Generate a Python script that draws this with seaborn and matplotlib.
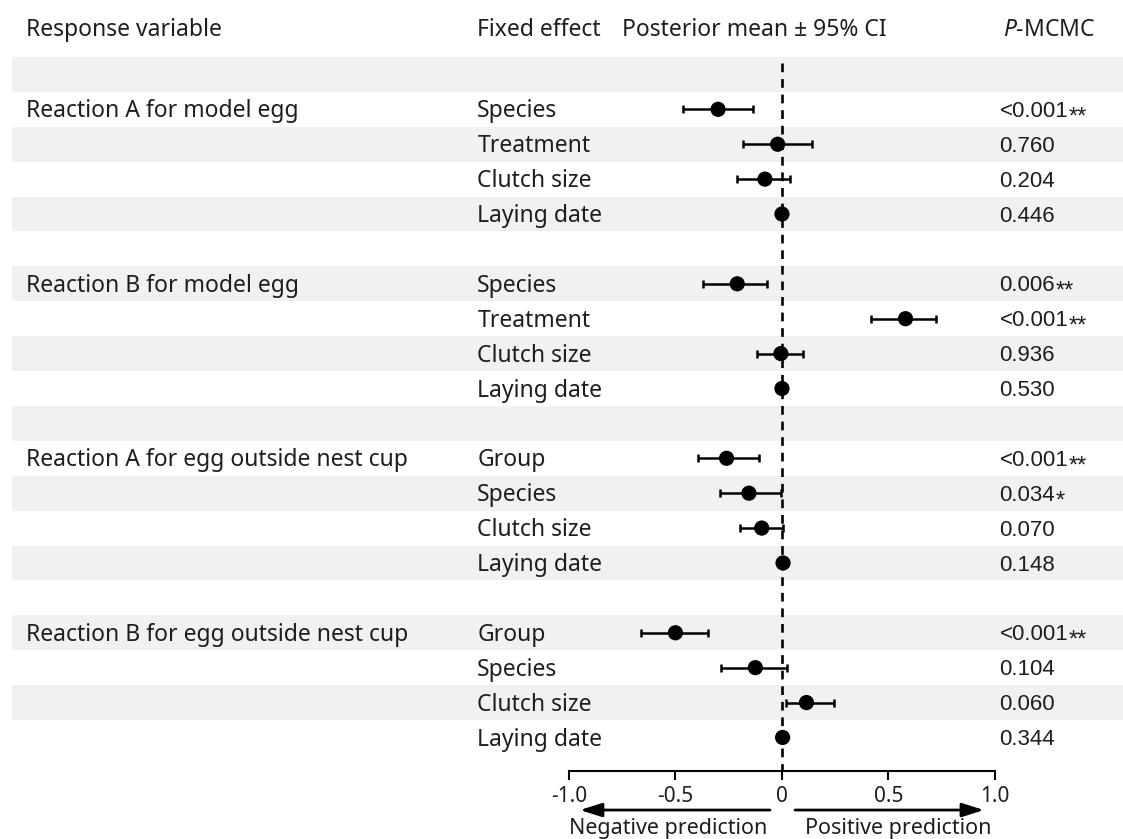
import pandas as pd
import matplotlib.pyplot as plt
import seaborn as sns

# model summaries (posterior means, 95% CI, P-MCMC)
responses = ["Reaction A for model egg", "Reaction B for model egg",
             "Reaction A for egg outside nest cup", "Reaction B for egg outside nest cup"]
effects = [["Species", "Treatment", "Clutch size", "Laying date"],
           ["Species", "Treatment", "Clutch size", "Laying date"],
           ["Group", "Species", "Clutch size", "Laying date"],
           ["Group", "Species", "Clutch size", "Laying date"]]
means = [-0.30, -0.02, -0.08, 0.0,
         -0.21, 0.58, -0.005, 0.0,
         -0.26, -0.155, -0.095, 0.005,
         -0.50, -0.125, 0.115, 0.003]
lower = [-0.465, -0.185, -0.21, -0.01,
         -0.37, 0.42, -0.115, -0.01,
         -0.395, -0.29, -0.195, -0.005,
         -0.66, -0.285, 0.02, -0.007]
upper = [-0.135, 0.14, 0.04, 0.01,
         -0.07, 0.725, 0.10, 0.01,
         -0.11, -0.005, 0.003, 0.015,
         -0.345, 0.025, 0.245, 0.013]
p_values = ["<0.001", "0.760", "0.204", "0.446",
            "0.006", "<0.001", "0.936", "0.530",
            "<0.001", "0.034", "0.070", "0.148",
            "<0.001", "0.104", "0.060", "0.344"]
stars = ["**", "", "", "",
         "**", "**", "", "",
         "**", "*", "", "",
         "**", "", "", ""]
tick_values = [-1.0, -0.5, 0.0, 0.5, 1.0]
tick_labels = ["-1.0", "-0.5", "0", "0.5", "1.0"]

rows = []
for g, resp in enumerate(responses):
    for j, eff in enumerate(effects[g]):
        rows.append({"response": resp, "effect": eff, "row": 1 + g * 5 + j})
df = pd.DataFrame(rows)
df["mean"] = means
df["lower"] = lower
df["upper"] = upper
df["p"] = p_values
df["stars"] = stars

sns.set_theme(style="white")
plt.rcParams['font.family'] = ['Noto Sans', 'DejaVu Sans']
plt.rcParams['mathtext.fontset'] = 'custom'
plt.rcParams['mathtext.it'] = 'Noto Sans:italic'
plt.rcParams['mathtext.rm'] = 'Noto Sans'

FS = 16.5
txt_color = "#1e1e1e"
dy = 0.06  # nudge text down a little to sit centred in the stripes
fig = plt.figure(figsize=(11.23, 8.39), dpi=100)
ax = fig.add_axes([0, 0, 1, 1])
ax.set_facecolor("white")

n_rows = 20
for i in range(0, n_rows, 2):
    ax.axhspan(i - 0.5, i + 0.5, xmin=0.011, xmax=1, color="#f1f1f1", lw=0, zorder=0)

axis_y = 19.96
ax.vlines(0, -0.33, axis_y, colors="black", linestyles=(0, (3.3, 2.6)), lw=1.9, zorder=1)

ax.errorbar(df["mean"], df["row"],
            xerr=[df["mean"] - df["lower"], df["upper"] - df["mean"]],
            fmt="none", ecolor="black", elinewidth=1.8, capsize=3, capthick=1.8, zorder=2)
sns.scatterplot(data=df, x="mean", y="row", color="black", s=120, edgecolor="none",
                ax=ax, zorder=3, legend=False)

ax.set_xlim(-3.671, 1.601)
ax.set_ylim(21.91, -2.133)
ax.set_xlabel("")
ax.set_ylabel("")

for s in ["left", "right", "top"]:
    ax.spines[s].set_visible(False)
ax.spines["bottom"].set_position(("data", axis_y))
ax.spines["bottom"].set_bounds(-1, 1)
ax.spines["bottom"].set_linewidth(1.5)
ax.spines["bottom"].set_color("black")
ax.set_yticks([])
ax.set_xticks(tick_values)
ax.set_xticklabels(tick_labels, fontsize=15)
ax.tick_params(axis="x", direction="out", length=6.5, width=1.5, pad=4, colors="black",
               labelcolor=txt_color, bottom=True)

tr = ax.get_yaxis_transform()
head_y = -1.28
ax.text(0.023, head_y, "Response variable", transform=tr, va="center", fontsize=FS, color=txt_color)
ax.text(0.425, head_y, "Fixed effect", transform=tr, va="center", fontsize=FS, color=txt_color)
ax.text(0.554, head_y, "Posterior mean ± 95% CI", transform=tr, va="center", fontsize=FS, color=txt_color)
ax.text(0.893, head_y, r"$\mathit{P}$-MCMC", transform=tr, va="center", fontsize=FS, color=txt_color)

for g, resp in enumerate(responses):
    ax.text(0.023, 1 + g * 5 + dy, resp, transform=tr, va="center", fontsize=FS, color=txt_color)

for _, r in df.iterrows():
    ax.text(0.425, r["row"] + dy, r["effect"], transform=tr, va="center", fontsize=FS, color=txt_color)
    t = ax.text(0.890, r["row"] + dy, r["p"], transform=tr, va="center", fontsize=16,
                color=txt_color, family="Liberation Sans")
    if r["stars"]:
        ax.annotate(r["stars"], xy=(1, 0.5), xycoords=t, xytext=(0.5, -4.2),
                    textcoords="offset points", va="center", ha="left",
                    fontsize=17, color=txt_color, family="Liberation Sans")

# direction arrows under the axis
arrow_y = 21.08
ax.annotate("", xy=(-0.948, arrow_y), xytext=(-0.056, arrow_y),
            arrowprops=dict(arrowstyle="-|>,head_length=1.1,head_width=0.35", lw=2, color="black",
                            shrinkA=0, shrinkB=0))
ax.annotate("", xy=(0.948, arrow_y), xytext=(0.061, arrow_y),
            arrowprops=dict(arrowstyle="-|>,head_length=1.1,head_width=0.35", lw=2, color="black",
                            shrinkA=0, shrinkB=0))
ax.text(-0.535, 21.62, "Negative prediction", ha="center", va="center", fontsize=15.5, color=txt_color)
ax.text(0.545, 21.62, "Positive prediction", ha="center", va="center", fontsize=15.5, color=txt_color)

fig.savefig("out.png", dpi=100)
